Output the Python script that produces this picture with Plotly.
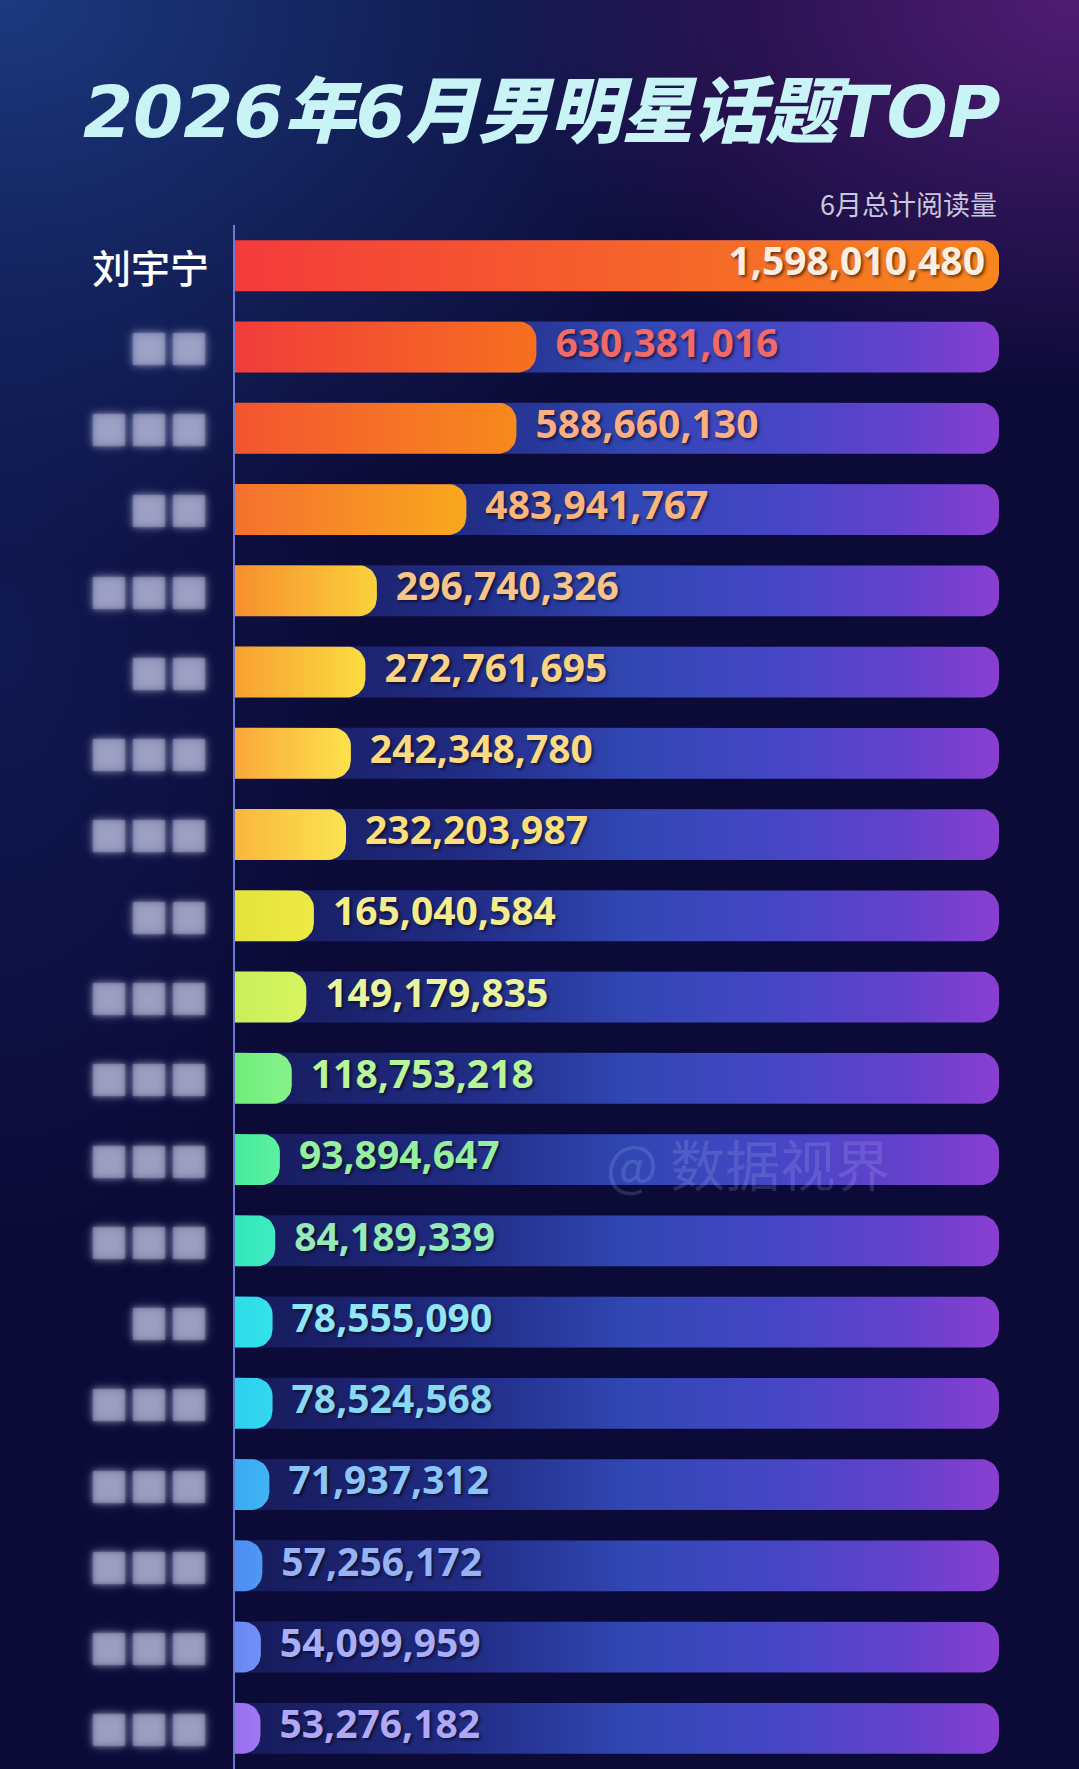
import numpy as np
import plotly.graph_objects as go

# ---------------- data ----------------
names = ["刘宇宁", "■■", "■■■", "■■", "■■■", "■■", "■■■", "■■■", "■■", "■■■",
         "■■■", "■■■", "■■■", "■■", "■■■", "■■■", "■■■", "■■■", "■■■"]
values = [1598010480, 630381016, 588660130, 483941767, 296740326, 272761695,
          242348780, 232203987, 165040584, 149179835, 118753218, 93894647,
          84189339, 78555090, 78524568, 71937312, 57256172, 54099959, 53276182]
bar_left = ["#f43b3b", "#f03c3a", "#f35430", "#f5702e", "#f78f2e", "#f9a032",
            "#faa83a", "#f9b63c", "#e4e33a", "#c8ef5a", "#6eef7c", "#46eb9a",
            "#32e6b8", "#2cdce8", "#2cd0ee", "#3aaaf2", "#4e8cf2", "#6a88f6", "#9a70f0"]
bar_right = ["#f7861c", "#f7701f", "#f88a1d", "#f9a81e", "#fbd13a", "#fbdc40",
             "#fde24c", "#fbe452", "#eeea45", "#d8f560", "#86f28a", "#5cf0a2",
             "#40ecc2", "#34e2ea", "#34d8f0", "#40b4f4", "#5098f4", "#7090f6", "#a078f0"]
label_colors = ["#fcefe2", "#f06a6a", "#fcae80", "#fbb47a", "#f7c48a", "#fcd283",
                "#fcd983", "#fadf7a", "#f5ec8e", "#e9f59e", "#b8f59a", "#96ef9e",
                "#94eab8", "#90e6f5", "#88d8f2", "#8cc6f8", "#98b2f6", "#a8aef8", "#b0a8f6"]
title_text = "2026年6月男明星话题TOP"
subtitle_text = "6月总计阅读量"
watermark_text = "@ 数据视界"

# ---------------- geometry ----------------
W, H = 1079, 1769
PLOT_L, PLOT_R = 235, 999
PLOT_T = 225
PLOT_W = PLOT_R - PLOT_L
PLOT_H = H - PLOT_T
N = len(values)
vmax = max(values)
kx = vmax / PLOT_W          # data units per px (x)
ky = N / PLOT_H             # data units per px (y)
HALF_H = 25.5
RAD = 18


def rounded_bar(value, row):
    L = value / kx
    pts = [(0, -HALF_H)]
    for t in np.linspace(-np.pi / 2, 0, 10):
        pts.append((L - RAD + RAD * np.cos(t), -HALF_H + RAD + RAD * np.sin(t)))
    for t in np.linspace(0, np.pi / 2, 10):
        pts.append((L - RAD + RAD * np.cos(t), HALF_H - RAD + RAD * np.sin(t)))
    pts.append((0, HALF_H))
    pts.append((0, -HALF_H))
    xs = [p[0] * kx for p in pts]
    ys = [row + p[1] * ky for p in pts]
    return xs, ys


fig = go.Figure()

# ---------------- background glows (full-paper axes x/y) ----------------
def glow(cx, cy, rx, ry, color_in, color_out):
    fig.add_trace(go.Scatter(
        x=[cx - rx, cx + rx, cx + rx, cx - rx, cx - rx],
        y=[cy - ry, cy - ry, cy + ry, cy + ry, cy - ry],
        mode="lines", line=dict(width=0, color="rgba(0,0,0,0)"),
        fill="toself",
        fillgradient=dict(type="radial", colorscale=[[0, color_in], [1, color_out]]),
        hoverinfo="skip", showlegend=False, xaxis="x", yaxis="y"))

glow(0.0, 1.0, 0.7, 0.32, "rgba(30,66,140,0.85)", "rgba(30,66,140,0)")
glow(1.0, 1.0, 0.55, 0.22, "rgba(88,30,122,0.9)", "rgba(88,30,122,0)")
glow(0.0, 0.64, 0.32, 0.34, "rgba(20,42,112,0.45)", "rgba(20,42,112,0)")

# ---------------- tracks ----------------
tx, ty = [], []
for i in range(N):
    xs, ys = rounded_bar(vmax, i + 1)
    tx += xs + [None]
    ty += ys + [None]
fig.add_trace(go.Scatter(
    x=tx, y=ty, mode="lines", line=dict(width=0, color="rgba(0,0,0,0)"),
    fill="toself",
    fillgradient=dict(type="horizontal", colorscale=[
        [0, "#161a58"], [0.3, "#212c84"], [0.52, "#3147b4"], [0.72, "#4746c6"],
        [0.88, "#6541cc"], [1, "#8a3ed2"]]),
    hoverinfo="skip", showlegend=False, xaxis="x2", yaxis="y2"))

# ---------------- value bars ----------------
for i, v in enumerate(values):
    xs, ys = rounded_bar(v, i + 1)
    fig.add_trace(go.Scatter(
        x=xs, y=ys, mode="lines", line=dict(width=0, color="rgba(0,0,0,0)"),
        fill="toself",
        fillgradient=dict(type="horizontal", colorscale=[[0, bar_left[i]], [1, bar_right[i]]]),
        hoverinfo="skip", showlegend=False, xaxis="x2", yaxis="y2"))

# ---------------- value labels ----------------
rows = list(range(1, N + 1))
lab_x = [v - 14 * kx if i == 0 else v + 19 * kx for i, v in enumerate(values)]
lab_pos = ["middle left" if i == 0 else "middle right" for i in range(N)]
fig.add_trace(go.Scatter(
    x=lab_x, y=rows, mode="text",
    text=[f"{v:,}" for v in values], textposition=lab_pos,
    textfont=dict(family="Noto Sans, Open Sans, sans-serif", size=39, weight=700,
                  color=label_colors, shadow="2px 2px 3px rgba(0,0,0,0.55)"),
    cliponaxis=False, hoverinfo="skip", showlegend=False, xaxis="x2", yaxis="y2"))

# ---------------- names (annotations: paper x, data y) ----------------
annotations = []
for i, nm in enumerate(names):
    if i == 0:
        font = dict(family="Noto Sans CJK SC", size=39, weight=500, color="#ffffff")
    else:
        font = dict(family="Noto Sans CJK SC", size=40, color="rgba(175,178,212,0.32)",
                    shadow=("0 0 3px rgba(200,202,232,1), 0 0 6px rgba(200,202,232,1), "
                            "0 0 10px rgba(200,202,232,0.9), 0 0 15px rgba(200,202,232,0.6)"))
    annotations.append(dict(
        text=nm, xref="paper", yref="y2", x=211 / W, y=rows[i],
        xanchor="right", yanchor="middle", showarrow=False, font=font))

annotations += [
    dict(text=title_text, xref="paper", yref="paper", x=542 / W, y=1 - 112 / H,
         xanchor="center", yanchor="middle", showarrow=False,
         font=dict(family="DejaVu Sans, Noto Sans CJK SC", size=72, weight=900,
                   style="italic", color="#c9f4f6")),
    dict(text=subtitle_text, xref="paper", yref="paper", x=999 / W, y=1 - 203 / H,
         xanchor="right", yanchor="middle", showarrow=False,
         font=dict(family="Noto Sans CJK SC", size=27, color="#c8c8dc")),
    dict(text=watermark_text, xref="paper", yref="paper", x=748 / W, y=1 - 1162 / H,
         xanchor="center", yanchor="middle", showarrow=False,
         font=dict(family="Noto Sans CJK SC", size=55, color="rgba(200,210,255,0.16)")),
]

# ---------------- layout ----------------
fig.update_layout(
    width=W, height=H,
    margin=dict(l=0, r=0, t=0, b=0),
    paper_bgcolor="#0c0b38", plot_bgcolor="rgba(0,0,0,0)",
    showlegend=False,
    xaxis=dict(domain=[0, 1], range=[0, 1], visible=False, fixedrange=True),
    yaxis=dict(domain=[0, 1], range=[0, 1], visible=False, fixedrange=True),
    xaxis2=dict(domain=[PLOT_L / W, PLOT_R / W], range=[0, vmax], anchor="y2",
                visible=False, fixedrange=True),
    yaxis2=dict(domain=[0, PLOT_H / H], range=[N + 0.5, 0.5], anchor="x2",
                showline=True, linecolor="rgba(120,140,235,0.85)", linewidth=1.5,
                showticklabels=False, showgrid=False, zeroline=False, ticks="",
                fixedrange=True),
    annotations=annotations,
)

fig.write_html("out.html")
